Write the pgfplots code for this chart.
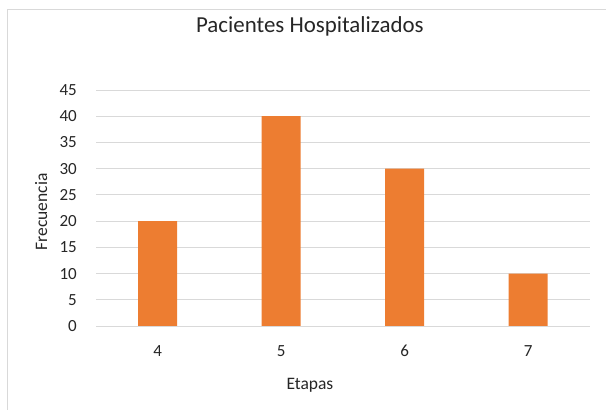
\documentclass[border=0pt]{standalone}
\usepackage{pgfplots}
\pgfplotsset{compat=1.18}
\usepackage{fontspec}
\setmainfont{Carlito}
\definecolor{barorange}{HTML}{ED7D31}
\definecolor{gridgray}{HTML}{D9D9D9}
\definecolor{textgray}{HTML}{262626}
\begin{document}
\begin{tikzpicture}[x=1pt,y=1pt]
\path[use as bounding box] (0,0) rectangle (606,410);
% chart frame
\draw[gridgray, line width=1pt] (7,-5) -- (7,400) -- (615,400);
\begin{axis}[
  at={(96pt,84pt)}, anchor=south west,
  scale only axis, width=494pt, height=236pt,
  xmin=-0.5, xmax=3.5, ymin=0, ymax=45,
  xtick={0,1,2,3}, xticklabels={4,5,6,7},
  ytick={0,5,...,45},
  ymajorgrids, grid style={gridgray, line width=0.9pt},
  axis line style={draw=none},
  tick style={draw=none},
  ticklabel style={font=\fontsize{17}{20}\selectfont, text=textgray},
  /pgf/number format/assume math mode=true,
  yticklabel style={inner sep=0pt, anchor=east, xshift=-19pt},
  xticklabel style={inner sep=0pt, anchor=center, yshift=-25pt},
  title={Pacientes Hospitalizados},
  title style={at={(axis description cs:0.433,1.246)}, anchor=center, font=\fontsize{22.9}{27}\selectfont, text=textgray},
  xlabel={Etapas},
  xlabel style={at={(axis description cs:0.433,-0.25)}, anchor=center, font=\fontsize{17.5}{21}\selectfont, text=textgray},
  ylabel={Frecuencia},
  ylabel style={at={(axis description cs:-0.111,0.483)}, anchor=center, font=\fontsize{17.5}{21}\selectfont, text=textgray},
]
\addplot[ybar, bar width=39pt, fill=barorange, draw=none] coordinates {(0,20) (1,40) (2,30) (3,10)};
\end{axis}
\end{tikzpicture}
\end{document}
